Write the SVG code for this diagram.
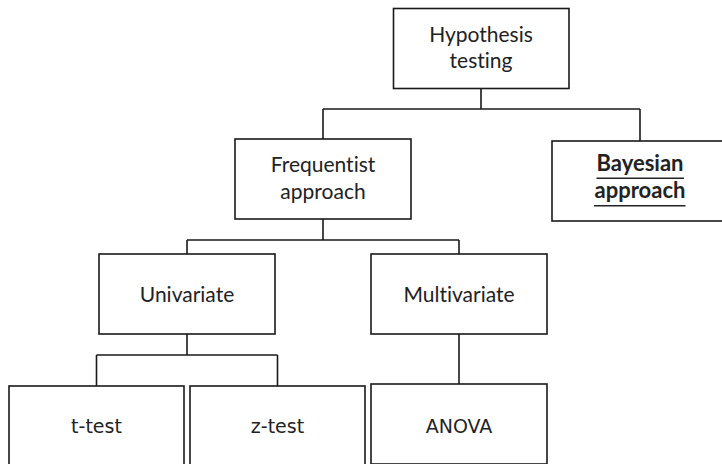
<svg xmlns="http://www.w3.org/2000/svg" width="722" height="464" viewBox="0 0 722 464">
<style>
.box{fill:#fff;stroke:#1a1a1a;stroke-width:1.6}
.conn{fill:none;stroke:#1a1a1a;stroke-width:1.6}
.t{font-family:Lato,"Liberation Sans",sans-serif;font-size:21px;fill:#222;text-anchor:middle;font-variant-ligatures:none;font-feature-settings:"liga" 0,"dlig" 0}
.b{font-weight:bold;font-size:22px}
.s{font-family:"DejaVu Sans","Liberation Sans",sans-serif;font-size:19px;fill:#222;text-anchor:middle}
.ul{stroke:#222;stroke-width:1.5}
</style>
<rect width="722" height="464" fill="#fff"/>
<g id="connectors">
<path class="conn" d="M481,88.5 V109 M323,109 H640 M323,109 V139 M640,109 V141"/>
<path class="conn" d="M323,219 V240 M187,240 H459 M187,240 V254 M459,240 V254"/>
<path class="conn" d="M187,334 V355 M96.5,355 H277.5 M96.5,355 V386 M277.5,355 V386"/>
<path class="conn" d="M459,334 V384"/>
</g>
<g id="hypothesis">
<rect class="box" x="393.5" y="8.5" width="175.5" height="80"/>
<text class="t" x="481" y="41.5">Hypothesis</text>
<text class="t" x="481" y="68">testing</text>
</g>
<g id="frequentist">
<rect class="box" x="235" y="139" width="176" height="80"/>
<text class="t" x="323" y="171.5">Frequentist</text>
<text class="t" x="323" y="199">approach</text>
</g>
<g id="bayesian">
<rect class="box" x="552" y="141" width="176" height="80"/>
<text class="t b" x="640" y="170.5">Bayesian</text>
<line class="ul" x1="596.5" y1="178.3" x2="684" y2="178.3"/>
<text class="t b" x="640" y="198">approach</text>
<line class="ul" x1="594" y1="205.7" x2="685.5" y2="205.7" stroke="#555"/>
</g>
<g id="univariate">
<rect class="box" x="99" y="254" width="176" height="80"/>
<text class="t" x="187" y="302">Univariate</text>
</g>
<g id="multivariate">
<rect class="box" x="371" y="254" width="176" height="80"/>
<text class="t" x="459" y="302">Multivariate</text>
</g>
<g id="ttest">
<rect class="box" x="9" y="386" width="175" height="80"/>
<text class="s" x="96.5" y="432.5">t-test</text>
</g>
<g id="ztest">
<rect class="box" x="190" y="386" width="175" height="80"/>
<text class="s" x="277.5" y="432.5">z-test</text>
</g>
<g id="anova">
<rect class="box" x="371" y="384" width="176" height="80"/>
<text class="s" x="459" y="432.5">ANOVA</text>
</g>
</svg>
